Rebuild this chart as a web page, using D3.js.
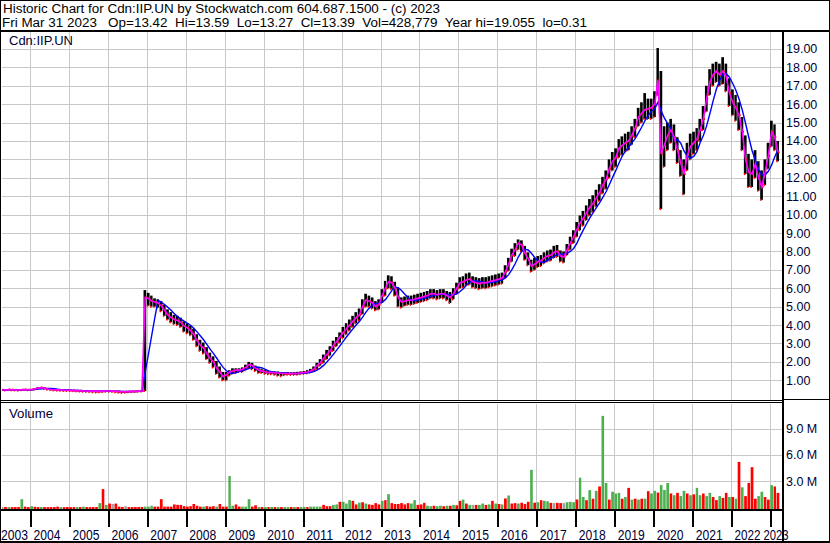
<!DOCTYPE html>
<html><head><meta charset="utf-8">
<script src="https://cdn.jsdelivr.net/npm/d3@7"></script>
<style>html,body{margin:0;padding:0;background:#fff;}svg{display:block;font-family:"Liberation Sans",Arial,sans-serif;}</style>
</head><body><svg id="c" width="830" height="543"></svg>
<script>
// ---------------- DATA ----------------
const titleText = "Historic Chart for Cdn:IIP.UN by Stockwatch.com 604.687.1500 - (c) 2023";
const quoteText = "Fri Mar 31 2023   Op=13.42  Hi=13.59  Lo=13.27  Cl=13.39  Vol=428,779  Year hi=19.055  lo=0.31";
const symbolText = "Cdn:IIP.UN";
const volumeTitle = "Volume";
const firstMonth = {year: 2003, month: 3}; // April 2003, one value per month
const yearLabels = ["2003","2004","2005","2006","2007","2008","2009","2010","2011","2012","2013","2014","2015","2016","2017","2018","2019","2020","2021","2022","2023"];
const priceTicks = [1,2,3,4,5,6,7,8,9,10,11,12,13,14,15,16,17,18,19];
const volumeTicks = [3,6,9];           // millions
const volumeTickLabels = ["3.0 M","6.0 M","9.0 M"];
const slowAveragePeriod = 5;           // months, blue average line

const priceClose = [
 0.48,0.47,0.50,0.49,0.48,0.47,0.49,0.50,0.49,
 0.50,0.53,0.58,0.60,0.57,0.53,0.50,0.49,0.48,0.47,0.46,0.46,
 0.45,0.44,0.44,0.43,0.42,0.42,0.41,0.41,0.40,0.40,0.41,0.42,
 0.42,0.41,0.40,0.39,0.38,0.38,0.39,0.40,0.40,0.41,0.42,5.50,
 5.45,5.30,5.25,5.20,5.05,4.80,4.55,4.40,4.30,4.25,4.15,3.95,
 3.85,3.70,3.50,3.15,2.90,2.75,2.45,2.20,2.00,1.65,1.45,1.20,
 1.30,1.45,1.50,1.55,1.55,1.60,1.70,1.85,1.80,1.65,1.55,1.50,
 1.45,1.42,1.42,1.40,1.40,1.38,1.37,1.37,1.36,1.37,1.38,1.40,
 1.42,1.45,1.50,1.60,1.80,1.95,2.20,2.40,2.60,2.90,3.10,3.35,
 3.60,3.80,4.00,4.20,4.40,4.55,5.00,5.35,5.30,5.20,5.00,5.10,
 5.60,6.00,6.35,6.30,6.00,5.50,5.25,5.30,5.35,5.35,5.40,5.45,
 5.50,5.55,5.60,5.70,5.70,5.65,5.70,5.70,5.60,5.50,5.70,6.00,
 6.30,6.35,6.45,6.50,6.35,6.30,6.25,6.30,6.30,6.35,6.40,6.45,
 6.50,6.55,6.90,7.30,7.80,8.10,8.45,8.35,7.90,7.60,7.20,7.30,
 7.45,7.50,7.65,7.75,7.80,7.95,8.00,7.75,7.70,8.10,8.45,8.80,
 9.20,9.55,9.80,10.10,10.40,10.60,10.90,11.20,11.60,11.90,12.50,12.90,
 13.10,13.60,13.75,13.90,14.00,14.30,14.70,15.30,15.50,15.70,15.75,15.80,
 16.00,17.30,13.30,13.80,14.30,14.60,14.20,13.50,12.80,12.20,13.20,13.70,
 13.90,14.10,14.60,15.20,16.30,17.20,17.60,17.80,17.60,17.80,17.50,16.60,
 16.10,15.80,15.40,14.50,13.00,12.30,12.20,12.75,12.00,11.50,12.30,13.20,
 14.50,14.20,13.39
];
const priceHigh = [
 0.50,0.50,0.52,0.52,0.50,0.50,0.52,0.53,0.52,
 0.53,0.56,0.62,0.64,0.62,0.57,0.53,0.52,0.51,0.50,0.49,0.49,
 0.48,0.47,0.47,0.46,0.45,0.45,0.44,0.44,0.43,0.44,0.45,0.45,
 0.45,0.44,0.43,0.42,0.41,0.41,0.42,0.43,0.43,0.44,0.45,5.90,
 5.75,5.60,5.45,5.40,5.30,5.10,4.85,4.70,4.55,4.50,4.40,4.20,
 4.10,3.95,3.80,3.50,3.20,3.05,2.80,2.50,2.30,2.05,1.75,1.45,
 1.45,1.55,1.65,1.65,1.65,1.70,1.85,2.00,1.95,1.80,1.65,1.60,
 1.55,1.50,1.50,1.48,1.48,1.45,1.44,1.45,1.43,1.44,1.46,1.48,
 1.50,1.55,1.62,1.75,1.95,2.15,2.40,2.65,2.85,3.15,3.35,3.60,
 3.90,4.10,4.30,4.50,4.70,4.90,5.40,5.70,5.60,5.50,5.30,5.40,
 5.95,6.40,6.70,6.65,6.35,6.00,5.50,5.55,5.60,5.60,5.65,5.70,
 5.75,5.80,5.85,5.95,5.95,5.90,5.95,5.95,5.85,5.80,6.00,6.30,
 6.60,6.65,6.80,6.85,6.65,6.60,6.55,6.60,6.60,6.65,6.70,6.75,
 6.80,6.85,7.25,7.65,8.15,8.45,8.65,8.60,8.30,7.95,7.55,7.65,
 7.75,7.80,7.95,8.05,8.10,8.30,8.35,8.05,8.00,8.40,8.80,9.15,
 9.60,9.95,10.20,10.50,10.85,11.05,11.35,11.65,12.05,12.40,13.00,13.40,
 13.60,14.10,14.25,14.40,14.50,14.80,15.20,15.80,16.10,16.60,16.30,16.30,
 16.70,19.05,17.80,14.80,15.00,15.20,14.90,14.20,13.50,13.00,13.90,14.40,
 14.50,14.70,15.20,15.90,17.00,17.90,18.20,18.30,18.20,18.55,18.20,17.40,
 16.80,16.50,16.10,15.30,14.30,13.30,13.00,13.50,12.90,12.40,13.00,13.90,
 15.10,14.90,14.00
];
const priceLow = [
 0.45,0.45,0.47,0.46,0.45,0.44,0.46,0.47,0.46,
 0.47,0.50,0.53,0.56,0.53,0.49,0.47,0.45,0.44,0.43,0.42,0.42,
 0.42,0.41,0.40,0.39,0.38,0.37,0.36,0.35,0.34,0.35,0.36,0.38,
 0.38,0.37,0.35,0.33,0.31,0.33,0.35,0.36,0.37,0.38,0.39,0.42,
 5.05,5.00,5.00,4.95,4.75,4.50,4.30,4.15,4.05,4.00,3.90,3.65,
 3.55,3.45,3.20,2.85,2.60,2.45,2.15,1.95,1.70,1.35,1.15,1.00,
 1.00,1.25,1.35,1.40,1.45,1.45,1.55,1.65,1.60,1.50,1.40,1.40,
 1.35,1.33,1.33,1.30,1.25,1.22,1.28,1.30,1.29,1.30,1.31,1.33,
 1.35,1.38,1.42,1.50,1.60,1.80,1.95,2.15,2.35,2.60,2.85,3.05,
 3.30,3.50,3.70,3.90,4.10,4.25,4.60,5.00,5.00,4.90,4.80,4.85,
 5.20,5.60,6.00,5.95,5.60,5.00,4.95,5.05,5.10,5.10,5.15,5.20,
 5.25,5.30,5.35,5.45,5.45,5.40,5.45,5.45,5.35,5.20,5.40,5.70,
 6.00,6.05,6.15,6.20,6.05,6.00,5.95,6.00,6.00,6.05,6.10,6.15,
 6.20,6.25,6.55,6.95,7.45,7.75,8.10,8.00,7.55,7.25,6.90,7.00,
 7.15,7.20,7.35,7.45,7.50,7.65,7.70,7.45,7.40,7.80,8.10,8.45,
 8.80,9.15,9.40,9.70,9.95,10.15,10.45,10.75,11.15,11.40,12.00,12.40,
 12.60,13.10,13.25,13.40,13.50,13.80,14.20,14.80,15.00,15.20,15.20,15.20,
 15.30,16.50,10.30,12.60,13.50,13.90,13.50,12.80,12.10,11.10,12.40,13.00,
 13.30,13.50,14.00,14.60,15.60,16.50,17.00,17.20,17.00,17.10,16.70,15.90,
 15.40,15.10,14.60,13.50,12.20,11.50,11.50,12.00,11.30,10.80,11.60,12.50,
 13.70,13.50,12.90
];
// volume in millions of shares
const volume = [
 0.05,0.06,0.05,0.04,0.05,0.06,0.95,0.10,0.05,
 0.15,0.08,0.05,0.06,0.05,0.04,0.05,0.05,0.10,0.05,0.04,0.05,
 0.04,0.05,0.06,0.05,0.10,0.05,0.04,0.05,0.06,0.50,2.10,0.30,
 0.45,0.40,0.45,0.10,0.06,0.15,0.05,0.05,0.06,0.05,0.06,0.10,
 0.10,0.20,0.10,0.10,0.95,0.10,0.10,0.10,0.35,0.30,0.30,0.15,
 0.10,0.15,0.40,0.20,0.10,0.10,0.15,0.10,0.15,0.10,0.40,0.10,
 0.10,3.60,0.20,0.35,0.10,0.10,0.10,0.95,0.10,0.25,0.05,0.05,
 0.05,0.05,0.06,0.05,0.06,0.05,0.05,0.06,0.05,0.06,0.05,0.06,
 0.06,0.05,0.10,0.10,0.10,0.10,0.30,0.15,0.15,0.30,0.35,0.65,
 0.65,0.45,0.84,0.76,0.35,0.55,0.60,0.45,0.35,0.30,0.50,0.35,
 0.76,0.84,1.52,0.50,0.40,0.40,0.50,0.35,0.50,0.45,0.84,0.30,
 0.35,0.53,0.20,0.15,0.20,0.15,0.20,0.15,0.20,0.20,0.30,0.25,
 0.76,0.91,0.45,0.30,0.30,0.30,0.30,0.45,0.30,0.35,0.76,0.45,
 0.40,0.35,1.03,1.37,0.45,0.50,0.45,0.55,0.40,0.65,4.30,0.55,
 0.60,0.84,0.76,0.70,0.53,0.50,0.53,0.50,0.50,0.60,0.65,0.60,
 0.91,3.40,1.20,0.84,1.98,1.00,1.90,2.40,10.45,2.80,0.90,1.80,
 1.60,1.67,1.00,1.20,2.24,0.90,1.00,0.90,1.00,1.00,1.86,1.60,
 1.90,1.70,2.55,2.00,2.80,1.60,1.40,1.67,1.30,1.90,1.60,1.40,
 1.50,2.24,1.40,1.60,1.30,1.67,1.20,0.84,1.30,1.10,1.67,1.20,
 1.20,1.00,5.20,2.30,1.30,2.80,4.60,1.00,1.30,1.80,1.20,0.90,
 2.55,2.40,1.67
];
// g = up, r = down, n = unchanged
const volumeDirection = [
 "nrgrrrgrr",
 "grrgrrrrrgrr",
 "rrgrgrrrrgrg",
 "rnrrrnrrrrrg",
 "ggrrrrrrrrrr",
 "rrrrrgrrrgrr",
 "rggrrgggrrgr",
 "grgrgrggrgrg",
 "grggggrrrggr",
 "gggrrgrgrrrr",
 "grgrrrrrrggr",
 "rrggrggrgrgr",
 "rgrgnrggrgrg",
 "rgrgrrgrrrgr",
 "grggrnrrnggg",
 "rggrgrgrggrg",
 "ggrgrgrgrgrg",
 "grgggrgrggrg",
 "rggrggrrgrrg",
 "rgrgrrrrggrr",
 "grr"
].join("").split("");

// ---------------- DRAW ----------------
const W = 830, H = 543;
const svg = d3.select("#c");
const font = '"Liberation Sans", Arial, sans-serif';
const axisColor = "#000033";
const gridColor = "#c8c8c8";
const plotLeft = 2, plotRight = 782;

const months = priceClose.map((_, i) => new Date(firstMonth.year, firstMonth.month + i, 1));
const monthEnd = i => new Date(firstMonth.year, firstMonth.month + i + 1, 1);
const monthMid = i => new Date((months[i].getTime() + monthEnd(i).getTime()) / 2);

const x = d3.scaleTime().domain([new Date(2003,0,1), new Date(2023,0,1)]).range([-8.95, 770]);
const yP = d3.scaleLinear().domain([0, 20]).range([398.7, 30.5]);
const yV = d3.scaleLinear().domain([0, 12]).range([507.5, 402.3]);

svg.append("rect").attr("width", W).attr("height", H).attr("fill", "#fff");

const defs = svg.append("defs");
defs.append("clipPath").attr("id","cp").append("rect").attr("x",plotLeft).attr("y",32).attr("width",plotRight-plotLeft).attr("height",368);
defs.append("clipPath").attr("id","cv").append("rect").attr("x",plotLeft).attr("y",404).attr("width",plotRight-plotLeft).attr("height",105);

const yearBounds = yearLabels.slice(1).map(y => new Date(+y, 0, 1));

// grids
const grid = svg.append("g").attr("stroke", gridColor).attr("stroke-width", 1).attr("shape-rendering","crispEdges");
grid.selectAll(".hp").data(priceTicks).join("line")
  .attr("x1", plotLeft).attr("x2", plotRight)
  .attr("y1", d => Math.round(yP(d)) + 0.5).attr("y2", d => Math.round(yP(d)) + 0.5);
grid.selectAll(".hv").data(volumeTicks).join("line")
  .attr("x1", plotLeft).attr("x2", plotRight)
  .attr("y1", d => Math.round(yV(d)) + 0.5).attr("y2", d => Math.round(yV(d)) + 0.5);
grid.selectAll(".vp").data(yearBounds).join("line")
  .attr("x1", d => Math.round(x(d)) + 0.5).attr("x2", d => Math.round(x(d)) + 0.5)
  .attr("y1", 32).attr("y2", 400);
grid.selectAll(".vv").data(yearBounds).join("line")
  .attr("x1", d => Math.round(x(d)) + 0.5).attr("x2", d => Math.round(x(d)) + 0.5)
  .attr("y1", 404).attr("y2", 509);

// price bars
const gp = svg.append("g").attr("clip-path", "url(#cp)");
const idx = d3.range(priceClose.length);
gp.append("g").attr("fill", "#000").selectAll("rect").data(idx).join("rect")
  .attr("x", i => x(months[i]))
  .attr("width", i => Math.max(1, x(monthEnd(i)) - x(months[i]) - 0.6))
  .attr("y", i => yP(priceHigh[i]))
  .attr("height", i => Math.max(1, yP(priceLow[i]) - yP(priceHigh[i])));
gp.append("g").attr("fill", "#ff0000").selectAll("rect").data(idx).join("rect")
  .attr("x", i => x(monthEnd(i)) - 1.8)
  .attr("width", 1.8)
  .attr("y", i => yP(priceClose[i]) - 1)
  .attr("height", 2);
gp.append("g").attr("fill", "#ff0000").selectAll("rect").data(idx).join("rect")
  .attr("x", i => x(months[i]))
  .attr("width", 1.4)
  .attr("y", i => yP(priceLow[i]) - 1)
  .attr("height", 2);

// average lines: slow simple average of the closes (blue) and the close line (magenta)
const slowAvg = idx.map(i => d3.mean(priceClose.slice(Math.max(0, i - slowAveragePeriod + 1), i + 1)));
gp.append("path").datum(idx)
  .attr("fill","none").attr("stroke","#0000ff").attr("stroke-width",1.4)
  .attr("d", d3.line().x(i => x(monthMid(i))).y(i => yP(slowAvg[i])));
gp.append("path").datum(idx)
  .attr("fill","none").attr("stroke","#ff00ff").attr("stroke-width",1.6)
  .attr("d", d3.line().x(i => x(monthMid(i))).y(i => yP(priceClose[i])));

// volume bars
const volColor = {g: "#4caf50", r: "#ff0000", n: "#a0a0a0"};
const gv = svg.append("g").attr("clip-path", "url(#cv)");
gv.selectAll("rect").data(idx).join("rect")
  .attr("x", i => x(months[i]) + 0.3)
  .attr("width", i => Math.max(1, x(monthEnd(i)) - x(months[i]) - 0.6))
  .attr("y", i => yV(volume[i]))
  .attr("height", i => Math.max(0.8, 509 - yV(volume[i])))
  .attr("fill", i => volColor[volumeDirection[i]]);

// frame lines
const black = svg.append("g").attr("fill", "#000").attr("shape-rendering","crispEdges");
black.append("rect").attr("x",0).attr("y",30).attr("width",W).attr("height",2);      // under header
black.append("rect").attr("x",0).attr("y",400).attr("width",plotRight).attr("height",1);
black.append("rect").attr("x",0).attr("y",402).attr("width",plotRight).attr("height",1);
black.append("rect").attr("x",plotRight).attr("y",399).attr("width",W-plotRight).attr("height",1);
black.append("rect").attr("x",0).attr("y",509).attr("width",plotRight).attr("height",2);   // above date row
black.append("rect").attr("x",plotRight).attr("y",32).attr("width",2).attr("height",H-32); // right of plot
black.append("rect").attr("x",0).attr("y",0).attr("width",1).attr("height",H);
black.append("rect").attr("x",W-1).attr("y",0).attr("width",1).attr("height",H);
black.append("rect").attr("x",0).attr("y",0).attr("width",W).attr("height",1);
black.append("rect").attr("x",0).attr("y",H-2).attr("width",W).attr("height",2);
black.selectAll(".div").data(yearBounds).join("rect")
  .attr("x", d => Math.round(x(d))).attr("y", 511).attr("width", 1.5).attr("height", 16);

// texts
const txt = svg.append("g").attr("font-family", font);
txt.append("text").attr("x",3).attr("y",12.5).attr("font-size",12).attr("fill","#000")
  .attr("textLength",437).attr("lengthAdjust","spacingAndGlyphs").text(titleText);
txt.append("text").attr("x",2).attr("y",26.5).attr("font-size",12).attr("fill","#000")
  .attr("xml:space","preserve").style("white-space","pre")
  .attr("textLength",585).attr("lengthAdjust","spacingAndGlyphs").text(quoteText);
txt.append("text").attr("x",9).attr("y",45).attr("font-size",12).attr("fill",axisColor)
  .attr("textLength",64).attr("lengthAdjust","spacingAndGlyphs").text(symbolText);
txt.append("text").attr("x",9).attr("y",418).attr("font-size",12).attr("fill",axisColor)
  .attr("textLength",44).attr("lengthAdjust","spacingAndGlyphs").text(volumeTitle);

txt.selectAll(".pl").data(priceTicks).join("text")
  .attr("x", 786).attr("y", d => yP(d) + 4.5).attr("font-size", 12.5).attr("fill", axisColor)
  .text(d => d.toFixed(2));
txt.selectAll(".vl").data(volumeTicks).join("text")
  .attr("x", 786).attr("y", d => yV(d) + 4.5).attr("font-size", 12.5).attr("fill", axisColor)
  .text((d, i) => volumeTickLabels[i]);

const lastYear = yearLabels.length - 1;
txt.selectAll(".yl").data(yearLabels).join("text")
  .attr("x", (d, i) => {
    if (i === 0) return 1;
    if (i === lastYear) return 763.5;
    return x(new Date(+d, 0, 1)) + 3.5;
  })
  .attr("y", 539.5).attr("font-size", 14).attr("fill", axisColor)
  .attr("textLength", (d, i) => i === lastYear - 1 ? 26 : (i === lastYear ? 25 : 27))
  .attr("lengthAdjust","spacingAndGlyphs")
  .text(d => d);
</script></body></html>
